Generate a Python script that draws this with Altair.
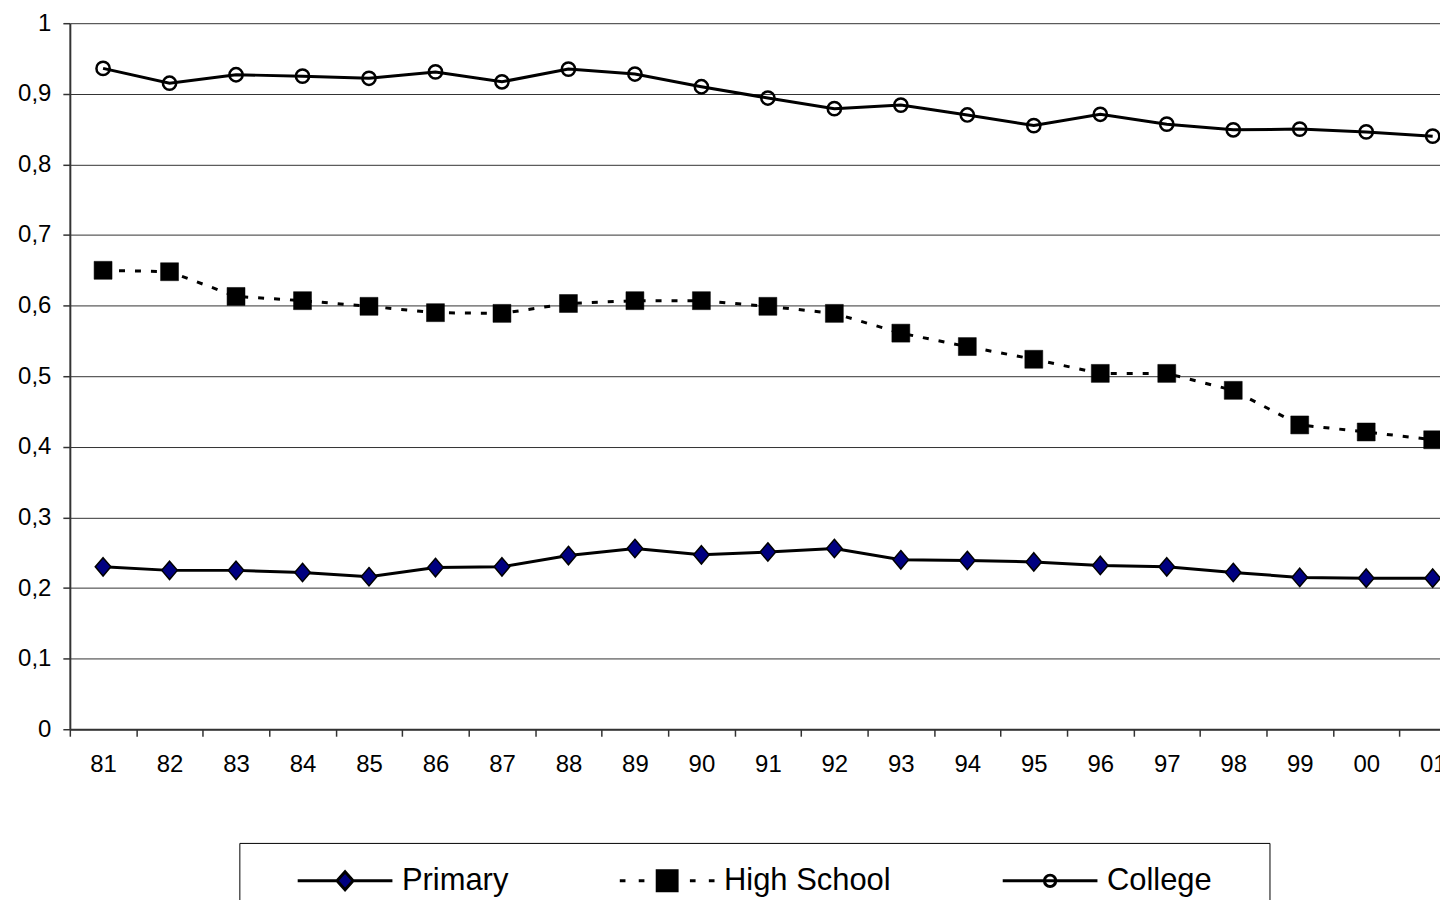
import altair as alt
import pandas as pd

years = ["81", "82", "83", "84", "85", "86", "87", "88", "89", "90", "91",
         "92", "93", "94", "95", "96", "97", "98", "99", "00", "01"]
primary = [0.230, 0.225, 0.225, 0.222, 0.216, 0.229, 0.230, 0.246, 0.256, 0.247, 0.251,
           0.256, 0.240, 0.239, 0.237, 0.232, 0.230, 0.222, 0.215, 0.214, 0.214]
high_school = [0.650, 0.648, 0.613, 0.607, 0.599, 0.590, 0.589, 0.603, 0.607, 0.607, 0.599,
               0.589, 0.561, 0.542, 0.524, 0.504, 0.504, 0.480, 0.431, 0.421, 0.410]
college = [0.936, 0.915, 0.927, 0.925, 0.922, 0.931, 0.917, 0.935, 0.928, 0.910, 0.894,
           0.879, 0.884, 0.870, 0.855, 0.871, 0.857, 0.849, 0.850, 0.846, 0.840]
series_names = ["Primary", "High School", "College"]
y_ticks = [0.0, 0.1, 0.2, 0.3, 0.4, 0.5, 0.6, 0.7, 0.8, 0.9, 1.0]

rows = []
for name, vals in zip(series_names, [primary, high_school, college]):
    for yr, v in zip(years, vals):
        rows.append({"year": yr, "value": v, "series": name})
df = pd.DataFrame(rows)

FONT = "Liberation Sans"

x_enc = alt.X(
    "year:O", sort=years, bandPosition=0.5,
    scale=alt.Scale(type="band", paddingInner=0, paddingOuter=0, range=[0, 1400]),
    axis=alt.Axis(title=None, tickBand="extent", labelAngle=0, labelFont=FONT,
                  labelFontSize=24, labelColor="black", labelPadding=16, tickSize=7,
                  tickColor="#333", tickWidth=1.5, domainColor="#333", domainWidth=2,
                  grid=False),
)
y_enc = alt.Y(
    "value:Q", scale=alt.Scale(domain=[0, 1], nice=False, zero=True),
    axis=alt.Axis(title=None, values=y_ticks,
                  labelExpr="replace(format(datum.value, '.1~f'), '.', ',')",
                  labelFont=FONT, labelFontSize=24, labelColor="black", labelPadding=12,
                  tickSize=7, tickColor="#333", tickWidth=1.5, domainColor="#333",
                  domainWidth=2, grid=True, gridColor="#333", gridWidth=1),
)

base = alt.Chart(df).encode(x=x_enc, y=y_enc)

def sel(name):
    return base.transform_filter(alt.datum.series == name)

line_p = sel("Primary").mark_line(color="black", strokeWidth=3)
line_h = sel("High School").mark_line(color="black", strokeWidth=3, strokeDash=[6, 10])
line_c = sel("College").mark_line(color="black", strokeWidth=3)

pt_p = sel("Primary").mark_point(shape="M0,-1L0.85,0L0,1L-0.85,0Z", size=340, filled=True,
                                 fill="#000080", stroke="black", strokeWidth=1.5, opacity=1)
pt_h = sel("High School").mark_point(shape="square", size=324, filled=True, fill="black",
                                     stroke="black", strokeWidth=0.5, opacity=1)
pt_c = sel("College").mark_point(shape="circle", size=177, filled=False, stroke="black",
                                 strokeWidth=2.5, opacity=1)

legend_paths = [
    "M-1,0H-0.18M0.18,0H1M0,-0.19L0.17,0L0,0.19L-0.17,0Z",
    "M-1,0H-0.88M-0.6,0H-0.48M0.48,0H0.6M0.88,0H1M-0.21,-0.21H0.21V0.21H-0.21Z",
    "M-1,0H1M-0.12,0A0.12,0.12 0 1,0 0.12,0A0.12,0.12 0 1,0 -0.12,0Z",
]
legend_fills = ["#000080", "black", "white"]
legend_strokes = ["black", "black", "black"]

legend_props = dict(
    orient="none", legendX=170, legendY=822, direction="horizontal", columns=3,
    title=".", titleOrient="right", titleColor="white", titleFontSize=2, titlePadding=37,
    symbolSize=9025, clipHeight=36, padding=20, symbolOffset=37,
    labelOffset=8, columnPadding=73, labelFont=FONT, labelFontSize=31, labelLimit=0,
    labelColor="black", strokeColor="black", fillColor="white",
    symbolStrokeWidth=3, symbolStrokeColor="black",
)

legend_layer = alt.Chart(df).transform_filter("false").mark_point(
    filled=True, stroke="black", strokeWidth=3, opacity=1
).encode(
    shape=alt.Shape("series:N", scale=alt.Scale(domain=series_names, range=legend_paths),
                    legend=alt.Legend(**legend_props)),
    fill=alt.Fill("series:N", scale=alt.Scale(domain=series_names, range=legend_fills),
                  legend=alt.Legend(**legend_props)),
    stroke=alt.Stroke("series:N", scale=alt.Scale(domain=series_names, range=legend_strokes),
                      legend=alt.Legend(**legend_props)),
)

chart = alt.layer(line_p, line_h, line_c, pt_p, pt_h, pt_c, legend_layer).properties(
    width=1374, height=708,
    padding={"left": 62, "top": 14, "right": 0, "bottom": 170},
    autosize=alt.AutoSizeParams(type="none"),
    background="white",
).configure_view(stroke=None)

chart.save("out.html", embed_options={"renderer": "svg", "actions": False})
